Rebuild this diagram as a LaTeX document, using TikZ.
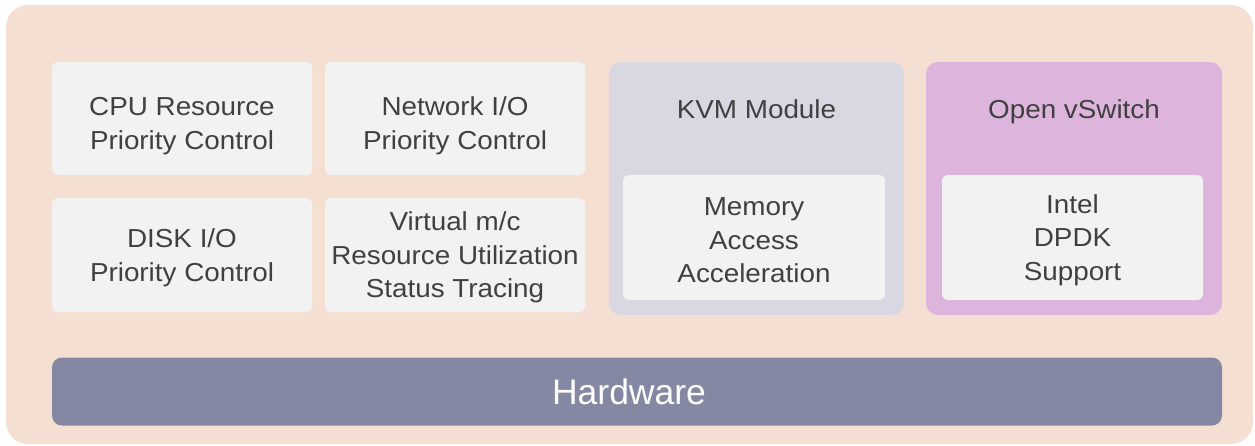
\documentclass[tikz,border=0pt]{standalone}
\usepackage{fontspec}
\setmainfont{Liberation Sans}
\newfontfamily\boxfont[FakeStretch=1.07]{Liberation Sans}
\usetikzlibrary{positioning}

\definecolor{peach}{RGB}{245,223,211}
\definecolor{lightbox}{RGB}{242,242,242}
\definecolor{kvmgray}{RGB}{216,215,226}
\definecolor{ovspurple}{RGB}{220,180,220}
\definecolor{hwblue}{RGB}{132,136,163}
\definecolor{textgray}{RGB}{64,64,64}

\begin{document}
\begin{tikzpicture}[x=1pt,y=-1pt,
    block/.style={fill=lightbox,rounded corners=6pt,align=center,text=textgray,
        font=\boxfont\fontsize{26}{33.5}\selectfont,inner sep=0pt,text depth=0pt},
    toprow/.style={block,minimum width=260pt,minimum height=113pt,text height=61pt},
    group/.style={rounded corners=12pt,minimum width=295pt,minimum height=253pt,inner sep=0pt},
    title/.style={text=textgray,font=\boxfont\fontsize{26}{30}\selectfont,inner sep=0pt,anchor=base}]
        \useasboundingbox (0,0) rectangle (1255,445);
        \fill[peach,rounded corners=22pt] (6,5) rectangle (1253,444);

        % left side: four priority / tracing boxes
        \node[toprow] (cpu) at (182,118.5) {CPU Resource\\Priority Control};
        \node[toprow] (netio) at (455,118.5) {Network I/O\\Priority Control};
        \node[block,minimum width=260pt,minimum height=114pt] (diskio) at (182,255) {DISK I/O\\Priority Control};
        \node[block,minimum width=260pt,minimum height=114pt] (vmtrace) at (455,255) {Virtual m/c\\Resource Utilization\\Status Tracing};

        % KVM module
        \node[group,fill=kvmgray] (kvm) at (756.5,188.5) {};
        \node[title] (kvmtitle) at ([yshift=-57pt]kvm.north) {KVM Module};
        \node[block,minimum width=262pt,minimum height=125pt,text height=90pt] (memacc) at (754,237.5) {Memory\\Access\\Acceleration};

        % Open vSwitch
        \node[group,fill=ovspurple,minimum width=296pt] (ovs) at (1074,188.5) {};
        \node[title] (ovstitle) at ([yshift=-57pt]ovs.north) {Open vSwitch};
        \node[block,minimum width=261pt,minimum height=125pt] (dpdk) at (1072.5,237.5) {Intel\\DPDK\\Support};

        % hardware bar
        \node[fill=hwblue,rounded corners=10pt,minimum width=1170pt,minimum height=68pt,inner sep=0pt,
            text=white,font=\fontsize{35.5}{40}\selectfont] (hw) at (637,391.5) {\hspace*{-16pt}Hardware};
    \end{tikzpicture}
\end{document}
